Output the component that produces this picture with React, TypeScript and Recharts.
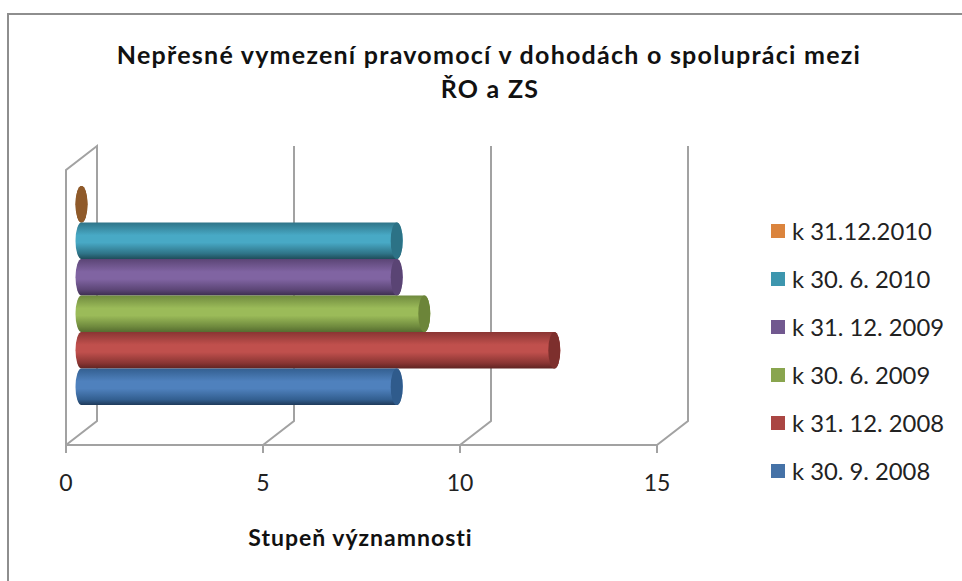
import React from 'react';
import { BarChart, Bar, XAxis, YAxis, CartesianGrid, Legend } from 'recharts';

const categories = ['Nepřesné vymezení pravomocí'];
const seriesNames = ['k 31.12.2010', 'k 30. 6. 2010', 'k 31. 12. 2009', 'k 30. 6. 2009', 'k 31. 12. 2008', 'k 30. 9. 2008'];
const seriesValues = [0, 8, 8, 8.7, 12, 8];
const legendColors = ['#db843d', '#3d96ae', '#71588f', '#89a54e', '#aa4643', '#4572a7'];
// top edge, highlight, shadow edge and end cap of each cylinder
const cylinderColors = [
  ['#8a5526', '#8f5a2a', '#7d4c20', '#8f5a2a'],
  ['#2f7488', '#48a9c5', '#1f4d5a', '#2c7286'],
  ['#5b4575', '#8064a2', '#3d2e4f', '#5a4474'],
  ['#6f8a3e', '#9bbb59', '#566c30', '#6c8539'],
  ['#8a3533', '#c0504d', '#5f2422', '#7d2f2d'],
  ['#335f90', '#4f81bd', '#1f3a5a', '#2f5b8c'],
];
const xTicks = [0, 5, 10, 15];

const tableRows = categories.map((name) => {
  const row: Record<string, string | number> = { name };
  seriesNames.forEach((s, i) => { row[s] = seriesValues[i]; });
  return row;
});

// fake 3D: how far the back wall sits from the front axis
const DEPTH_X = 31;
const DEPTH_Y = 24;
const GRID = '#a2a2a2';
const FONT = 'Lato, "Open Sans", sans-serif';

const Cylinder = (props: any) => {
  const { x, y, width, height, colorIndex } = props;
  const cx = x + DEPTH_X / 2;
  const cy = y - DEPTH_Y / 2;
  const rx = 6;
  const ry = height / 2;
  const right = cx + width;
  const capFill = cylinderColors[colorIndex][3];
  return (
    <g>
      <path
        d={`M${cx},${cy} L${right},${cy} A${rx},${ry} 0 0 1 ${right},${cy + height} L${cx},${cy + height} A${rx},${ry} 0 0 1 ${cx},${cy} Z`}
        fill={`url(#cyl${colorIndex})`}
      />
      <ellipse cx={right} cy={cy + ry} rx={rx} ry={ry} fill={capFill} />
    </g>
  );
};

const WallLine = (props: any) => {
  const { x1, y1, y2 } = props;
  const top = Math.min(y1, y2);
  const bottom = Math.max(y1, y2);
  const pts = [[x1, bottom], [x1 + DEPTH_X, bottom - DEPTH_Y], [x1 + DEPTH_X, top - DEPTH_Y]];
  if (x1 < 70) pts.push([x1, top], [x1, bottom]);
  return <polyline points={pts.map((p) => p.join(',')).join(' ')} fill="none" stroke={GRID} strokeWidth={2} />;
};

const LegendBox = ({ payload }: any) => (
  <div style={{ fontFamily: FONT }}>
    {(payload || []).map((p: any) => (
      <div key={p.value} style={{ display: 'flex', alignItems: 'center', height: 48 }}>
        <span style={{ width: 14, height: 14, background: p.color, marginRight: 7, flex: 'none' }} />
        <span style={{ fontSize: 23.8, color: '#222', whiteSpace: 'nowrap' }}>{p.value}</span>
      </div>
    ))}
  </div>
);

export default function App() {
  return (
    <div style={{ position: 'absolute', left: 0, top: 0, width: 962, height: 581, overflow: 'hidden', background: '#fff' }}>
      <div style={{ position: 'absolute', left: 7, top: 13, width: 960, height: 580, borderLeft: '2px solid #8e8e8e', borderTop: '2px solid #8e8e8e' }} />
      <BarChart
        width={962}
        height={581}
        data={tableRows}
        layout="vertical"
        margin={{ top: 170, right: 305, bottom: 0, left: 66 }}
        barCategoryGap={28}
        barGap={0}
        style={{ position: 'absolute', left: 0, top: 0 }}
      >
        <defs>
          {cylinderColors.map((c, i) => (
            <linearGradient key={i} id={`cyl${i}`} x1="0" y1="0" x2="0" y2="1" gradientUnits="objectBoundingBox">
              <stop offset="0%" stopColor={c[0]} />
              <stop offset="35%" stopColor={c[1]} />
              <stop offset="55%" stopColor={c[1]} />
              <stop offset="85%" stopColor={c[0]} />
              <stop offset="100%" stopColor={c[2]} />
            </linearGradient>
          ))}
        </defs>
        <text x={489} y={64} textAnchor="middle" fontFamily={FONT} fontSize={25} fontWeight={700} letterSpacing={1.25} fill="#111">
          Nepřesné vymezení pravomocí v dohodách o spolupráci mezi
        </text>
        <text x={490} y={98} textAnchor="middle" fontFamily={FONT} fontSize={25} fontWeight={700} letterSpacing={1.25} fill="#111">
          ŘO a ZS
        </text>
        <CartesianGrid horizontal={false} vertical={(p: any) => <WallLine key={p.index ?? p.x1} {...p} />} verticalValues={xTicks} />
        <XAxis
          type="number"
          domain={[0, 15]}
          ticks={xTicks}
          height={136}
          tickSize={8}
          tickMargin={22}
          stroke={GRID}
          strokeWidth={2}
          tick={{ fill: '#222', fontSize: 23, fontFamily: FONT }}
          label={{ value: 'Stupeň významnosti', position: 'insideBottom', offset: 35, dx: -1, fill: '#111', fontSize: 23, fontWeight: 700, letterSpacing: 1, fontFamily: FONT }}
        />
        <YAxis type="category" dataKey="name" width={0} tick={false} axisLine={false} tickLine={false} />
        <Legend
          layout="vertical"
          align="center"
          verticalAlign="middle"
          itemSorter={null}
          content={LegendBox}
          wrapperStyle={{ left: 771, top: 207, width: 190 }}
        />
        {seriesNames.map((s, i) => (
          <Bar
            key={s}
            dataKey={s}
            fill={legendColors[i]}
            shape={(p: any) => <Cylinder {...p} colorIndex={i} />}
            isAnimationActive={false}
            barSize={36.5}
          />
        ))}
      </BarChart>
    </div>
  );
}
